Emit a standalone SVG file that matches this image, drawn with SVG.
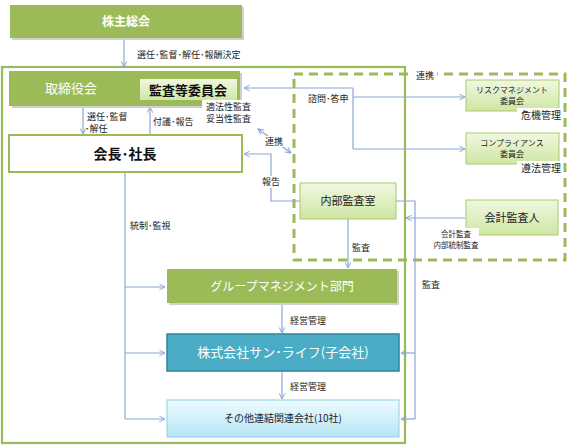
<svg xmlns="http://www.w3.org/2000/svg" width="567" height="446" viewBox="0 0 567 446">
<style>
text{font-family:"Noto Sans CJK JP","Noto Sans",sans-serif;}
.green{fill:#9bbb59;}
.shadow{fill:#d0d0d0;}
.lg{fill:url(#lgGrad);stroke:#a9c96d;stroke-width:1;}
.conn{fill:none;stroke:#8aa5d6;stroke-width:1.2;}
.lbl{font-size:9px;fill:#222;}
.wt{fill:#fff;}
</style>
<defs>
<linearGradient id="lgGrad" x1="0" y1="0" x2="0" y2="1">
<stop offset="0" stop-color="#f0f8e0"/>
<stop offset="1" stop-color="#cfe6a3"/>
</linearGradient>
<linearGradient id="lbGrad" x1="0" y1="0" x2="0" y2="1">
<stop offset="0" stop-color="#eefbff"/>
<stop offset="1" stop-color="#b5e6f6"/>
</linearGradient>
<marker id="arr" viewBox="0 0 10 10" refX="9" refY="5" markerWidth="7" markerHeight="7" orient="auto-start-reverse" markerUnits="userSpaceOnUse">
<path d="M1,1 L9,5 L1,9" fill="none" stroke="#8aa5d6" stroke-width="1.4"/>
</marker>
</defs>

<!-- outer frames -->
<rect x="2" y="67" width="403" height="376" fill="none" stroke="#9bbb59" stroke-width="2.2"/>
<rect x="294" y="74" width="271" height="186" fill="none" stroke="#9bbb59" stroke-width="3" stroke-dasharray="9,6"/>
<rect x="413" y="69" width="24" height="12" fill="#fff"/>
<text x="425" y="79" text-anchor="middle" class="lbl">連携</text>

<g id="connectors">
<line class="conn" x1="124" y1="38" x2="124" y2="67" marker-end="url(#arr)"/>
<line class="conn" x1="83" y1="106" x2="83" y2="134" marker-end="url(#arr)"/>
<line class="conn" x1="150" y1="134" x2="150" y2="107" marker-end="url(#arr)"/>
<path class="conn" d="M353,88 L244,88" marker-end="url(#arr)"/>
<path class="conn" d="M353,88 L353,149"/>
<path class="conn" d="M353,97 L465,97" marker-end="url(#arr)"/>
<path class="conn" d="M353,149 L465,149" marker-end="url(#arr)"/>
<path class="conn" d="M300,201 L271,201 L271,154 L244,154" marker-end="url(#arr)"/>
<line class="conn" x1="258" y1="129" x2="291" y2="153" marker-start="url(#arr)" marker-end="url(#arr)"/>
<line class="conn" x1="348" y1="219" x2="348" y2="268" marker-end="url(#arr)"/>
<path class="conn" d="M396,201 L415,201 L415,419"/>
<path class="conn" d="M415,353 L401,353" marker-end="url(#arr)"/>
<path class="conn" d="M415,419 L401,419" marker-end="url(#arr)"/>
<path class="conn" d="M465,218 L406,218" marker-end="url(#arr)"/>
<path class="conn" d="M125,172 L125,419"/>
<path class="conn" d="M125,287 L165,287" marker-end="url(#arr)"/>
<path class="conn" d="M125,353 L165,353" marker-end="url(#arr)"/>
<path class="conn" d="M125,419 L165,419" marker-end="url(#arr)"/>
<line class="conn" x1="282" y1="304" x2="282" y2="333" marker-end="url(#arr)"/>
<line class="conn" x1="282" y1="371" x2="282" y2="399" marker-end="url(#arr)"/>
</g>

<g id="kabunushi">
<rect class="shadow" x="12" y="7" width="232" height="33"/>
<rect class="green" x="10" y="5" width="232" height="33"/>
<text x="126" y="26" text-anchor="middle" font-size="12" font-weight="bold" class="wt">株主総会</text>
</g>

<g id="torishimariyaku">
<rect class="shadow" x="12" y="73" width="230" height="35"/>
<rect class="green" x="9" y="71" width="231" height="35"/>
<text x="45" y="93" font-size="13" class="wt">取締役会</text>
</g>

<g id="kansa-iinkai">
<rect x="140" y="79" width="97" height="21" fill="url(#lgGrad)"/>
<text x="188" y="95" text-anchor="middle" font-size="13" font-weight="bold" fill="#111">監査等委員会</text>
</g>

<g id="kaicho">
<rect x="9" y="135" width="233" height="37" fill="#fff" stroke="#9bbb59" stroke-width="2"/>
<text x="125" y="159" text-anchor="middle" font-size="14" font-weight="bold" fill="#111">会長･社長</text>
</g>

<g id="risk">
<rect class="lg" x="466" y="80" width="93" height="31"/>
<text x="512" y="93" text-anchor="middle" font-size="8" fill="#222">リスクマネジメント</text>
<text x="512" y="104" text-anchor="middle" font-size="8" fill="#222">委員会</text>
<rect x="517" y="108" width="43" height="13" fill="#fff"/>
<text x="521" y="119" font-size="10" fill="#222">危機管理</text>
</g>

<g id="compliance">
<rect class="lg" x="466" y="133" width="93" height="31"/>
<text x="512" y="146" text-anchor="middle" font-size="8" fill="#222">コンプライアンス</text>
<text x="512" y="157" text-anchor="middle" font-size="8" fill="#222">委員会</text>
<rect x="517" y="161" width="43" height="13" fill="#fff"/>
<text x="521" y="172" font-size="10" fill="#222">遵法管理</text>
</g>

<g id="naibu">
<rect class="lg" x="300" y="183" width="96" height="36"/>
<text x="348" y="205" text-anchor="middle" font-size="11" fill="#222">内部監査室</text>
</g>

<g id="kaikei">
<rect class="lg" x="466" y="200" width="92" height="35"/>
<text x="512" y="222" text-anchor="middle" font-size="11" fill="#222">会計監査人</text>
<rect x="433" y="228" width="46" height="24" fill="#fff"/>
<text x="456" y="237" text-anchor="middle" font-size="7.5" fill="#222">会計監査</text>
<text x="456" y="248" text-anchor="middle" font-size="7.5" fill="#222">内部統制監査</text>
</g>

<g id="group">
<rect class="shadow" x="169" y="271" width="230" height="34"/>
<rect class="green" x="167" y="269" width="230" height="34"/>
<text x="282" y="291" text-anchor="middle" font-size="12" class="wt">グループマネジメント部門</text>
</g>

<g id="sunlife">
<rect x="167" y="334" width="232" height="37" fill="#4bacc6" stroke="#31849b" stroke-width="1.5"/>
<text x="283" y="357" text-anchor="middle" font-size="13" class="wt">株式会社サン･ライフ(子会社)</text>
</g>

<g id="others">
<rect x="167" y="400" width="232" height="37" fill="url(#lbGrad)" stroke="#93cddd" stroke-width="1"/>
<text x="283" y="422" text-anchor="middle" font-size="10" fill="#222">その他連結関連会社(10社)</text>
</g>

<!-- connector labels -->
<g id="labels">
<text x="137" y="58" class="lbl">選任･監督･解任･報酬決定</text>
<text x="87" y="120" class="lbl">選任･監督</text>
<text x="85" y="132" class="lbl">･解任</text>
<text x="153" y="125" class="lbl">付議･報告</text>
<rect x="202" y="100" width="52" height="26" fill="#fff"/>
<text x="206" y="110" class="lbl" font-size="10">適法性監査</text>
<text x="206" y="122" class="lbl" font-size="10">妥当性監査</text>
<text x="308" y="102" class="lbl" font-size="10">諮問･答申</text>
<rect x="265" y="136" width="19" height="11" fill="#fff"/>
<text x="274" y="145" text-anchor="middle" class="lbl" font-size="8">連携</text>
<rect x="262" y="176" width="19" height="12" fill="#fff"/>
<text x="271" y="185" text-anchor="middle" class="lbl" font-size="8">報告</text>
<text x="130" y="229" class="lbl">統制･監視</text>
<text x="352" y="251" class="lbl" font-size="10">監査</text>
<text x="422" y="288" class="lbl" font-size="10">監査</text>
<text x="290" y="324" class="lbl">経営管理</text>
<text x="290" y="390" class="lbl">経営管理</text>
</g>
</svg>
